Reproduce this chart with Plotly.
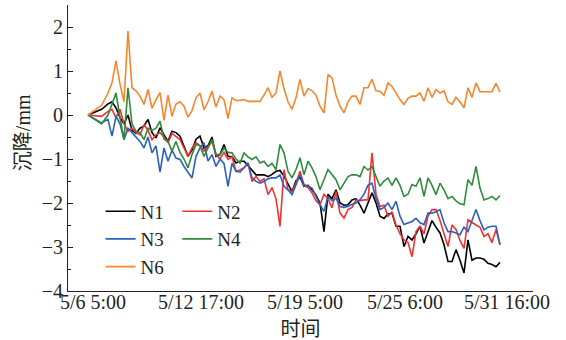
import plotly.graph_objects as go

# sample index (shared time axis, category-like)
sample_idx = [0, 3.4] + list(range(5, 104))

tick_labels = ["5/6 5:00", "5/12 17:00", "5/19 5:00", "5/25 6:00", "5/31 16:00"]
tick_pos = [1.25, 28.25, 54.25, 79.25, 104.75]

N1 = [0, 0.13,
      0.25, 0.3, 0.16, -0.06, -0.2, 0.0, -0.35, -0.42, -0.3, -0.25,
      -0.1, -0.4, -0.52, -0.29, -0.45, -0.6, -0.37, -0.4, -0.48, -0.7,
      -0.94, -0.8, -0.55, -0.48, -0.75, -0.7, -0.5, -0.94, -0.9, -0.67,
      -0.94, -0.95, -1.09, -1.05, -1.05, -1.15, -1.25, -1.36, -1.36, -1.36,
      -1.4, -1.35, -1.28, -1.26, -1.39, -1.55, -1.74, -1.5, -1.4, -1.62,
      -1.6, -1.7, -1.82, -2.0, -2.65, -1.8, -1.9, -1.7, -2.0, -2.05,
      -2.04, -1.93, -1.9, -2.05, -2.23, -2.0, -1.77, -2.0, -2.3, -2.35,
      -2.25, -2.23, -2.53, -2.53, -2.99, -2.76, -2.84, -2.7, -2.53, -2.91,
      -2.65, -2.4, -2.55, -2.68, -2.95, -3.33, -3.33, -3.06, -3.3, -3.59,
      -2.84, -3.3, -3.25, -3.25, -3.28, -3.37, -3.4, -3.45, -3.35]

N2 = [0, -0.03,
      0.08, 0.13, -0.06, 0.13, -0.2, -0.37, -0.3, -0.4, -0.45, -0.22,
      -0.35, -0.56, -0.45, -0.4, -0.5, -0.63, -0.42, -0.5, -0.56, -0.75,
      -0.94, -0.75, -0.63, -0.7, -0.82, -0.72, -0.6, -0.9, -1.0, -0.85,
      -1.01, -0.95, -1.28, -1.25, -1.2, -1.09, -1.51, -1.4, -1.51, -1.45,
      -1.81, -1.65, -1.9, -2.53, -1.24, -1.7, -1.75, -1.55, -1.28, -1.6,
      -1.65, -1.77, -1.95, -2.04, -1.8, -1.9, -2.11, -1.74, -2.23, -2.34,
      -2.15, -2.1, -1.93, -1.95, -1.93, -1.93, -0.86, -1.8, -2.08, -2.05,
      -2.3, -2.2, -2.5, -2.7, -2.84, -2.9, -3.22, -2.65, -2.53, -2.7,
      -2.3, -2.15, -2.15, -2.4, -2.7, -2.99, -2.5, -2.6, -2.85, -3.03,
      -2.38, -2.45, -2.5, -2.55, -2.76, -2.7, -2.9, -2.6, -2.95]

N3 = [0, -0.18,
      -0.1, -0.48, -0.03, -0.2, -0.56, -0.3, -0.4, -0.5, -0.6, -0.75,
      -0.5, -0.86, -0.7, -1.3, -0.75, -1.05, -0.8, -0.98, -1.01, -1.17,
      -1.3, -1.43, -0.94, -0.75, -0.63, -1.05, -0.9, -1.17, -1.0, -1.1,
      -1.62, -1.1, -1.28, -1.3, -1.2, -1.09, -1.43, -1.51, -1.55, -1.51,
      -1.45, -1.43, -1.43, -1.36, -1.62, -1.7, -1.81, -1.6, -1.36, -1.58,
      -1.62, -1.66, -1.85, -2.04, -2.19, -1.85, -1.95, -1.89, -2.08, -2.1,
      -2.08, -2.03, -2.0, -1.93, -1.8, -1.6, -1.55, -1.9, -2.15, -2.1,
      -2.0, -2.15, -1.96, -2.3, -2.49, -2.45, -2.42, -2.35, -2.45, -2.49,
      -2.23, -2.23, -2.2, -2.15, -2.45, -2.65, -2.65, -2.68, -2.72, -2.55,
      -2.65, -2.4, -2.15, -2.4, -2.61, -2.55, -2.53, -2.53, -2.95]

N4 = [0, -0.2,
      0.0, 0.24, 0.5, -0.06, -0.56, 0.62, -0.2, -0.37, -0.4, -0.56,
      -0.3, -0.35, -0.3, -0.14, -0.55, -0.6, -0.82, -0.6, -0.85, -1.0,
      -1.2, -0.9, -0.67, -0.7, -0.94, -0.75, -0.56, -0.9, -0.9, -0.75,
      -0.85, -0.86, -1.0, -1.09, -0.86, -0.95, -1.01, -0.95, -1.09, -1.05,
      -1.17, -1.1, -1.24, -0.67, -0.86, -1.28, -1.43, -1.24, -0.97, -1.36,
      -1.05, -1.2, -1.4, -1.7, -1.45, -1.24, -1.35, -1.47, -1.7, -1.55,
      -1.4, -1.36, -1.36, -1.4, -1.17, -1.25, -1.17, -1.4, -1.62, -1.5,
      -1.43, -1.6, -1.43, -1.6, -1.85, -1.8, -1.58, -1.62, -1.43, -1.85,
      -1.43, -1.6, -1.81, -1.55, -1.7, -1.9, -1.85, -1.95, -2.02, -2.04,
      -1.47, -1.6, -1.17, -1.66, -1.93, -1.9, -1.85, -1.93, -1.83]

N6 = [0, 0.22,
      0.5, 0.73, 1.23, 0.7, 0.3, 1.91, 0.62, 0.55, 0.43, 0.24,
      0.58, 0.15, 0.35, 0.51, -0.12, 0.45, -0.03, 0.25, 0.3, 0.2,
      -0.05, 0.1, 0.39, 0.5, 0.12, 0.3, 0.54, 0.18, 0.43, 0.35,
      -0.08, 0.39, 0.33, 0.33, 0.35, 0.31, 0.31, 0.31, 0.31, 0.45,
      0.62, 0.4, 0.5, 1.0, 0.6, 0.3, 0.13, 0.39, 0.81, 0.43,
      0.6, 0.55, 0.45, 0.2, 0.05, 0.92, 0.85, 0.45, 0.2, 0.05,
      0.3, 0.43, 0.43, 0.24, 0.62, 0.62, 0.81, 0.55, 0.54, 0.45,
      0.73, 0.65, 0.5, 0.35, 0.24, 0.38, 0.43, 0.43, 0.5, 0.31,
      0.62, 0.4, 0.58, 0.5, 0.55, 0.3, 0.24, 0.4, 0.3, 0.16,
      0.62, 0.4, 0.73, 0.53, 0.53, 0.53, 0.53, 0.72, 0.52]

series = [
    ("N1", N1, "#000000", "legend"),
    ("N2", N2, "#f03232", "legend2"),
    ("N3", N3, "#2d5fbd", "legend"),
    ("N4", N4, "#318a3c", "legend2"),
    ("N6", N6, "#f5862e", "legend"),
]

FONT = "Liberation Serif, Times New Roman, Noto Sans CJK SC, serif"
TXT = "#231f20"

fig = go.Figure()
for name, vals, color, lg in series:
    fig.add_trace(go.Scatter(
        x=sample_idx, y=vals, mode="lines", name=name,
        line=dict(color=color, width=1.6), legend=lg,
    ))

fig.update_layout(
    width=566, height=340,
    margin=dict(l=68, r=33, t=5, b=49),
    paper_bgcolor="white", plot_bgcolor="white",
    font=dict(family=FONT, size=20, color=TXT),
    legend=dict(x=0.07, y=0.345, xanchor="left", yanchor="top",
                bgcolor="rgba(0,0,0,0)", font=dict(size=19),
                tracegroupgap=0, itemwidth=30),
    legend2=dict(x=0.235, y=0.345, xanchor="left", yanchor="top",
                 bgcolor="rgba(0,0,0,0)", font=dict(size=19),
                 tracegroupgap=0, itemwidth=30),
    annotations=[dict(
        text="沉降/mm", textangle=-90, showarrow=False,
        xref="paper", yref="paper", x=-0.097, y=0.555,
        xanchor="center", yanchor="middle",
        font=dict(family=FONT, size=20, color=TXT),
    )],
)

fig.update_xaxes(
    range=[-5, 111.25], showgrid=False, zeroline=False,
    showline=True, linecolor=TXT, linewidth=1,
    tickmode="array", tickvals=tick_pos, ticktext=tick_labels,
    ticks="", tickfont=dict(size=20), ticklabelstandoff=-7,
    title=dict(text="时间", font=dict(size=20), standoff=9),
)
fig.update_yaxes(
    range=[-4, 2.5], showgrid=False, zeroline=False,
    showline=True, linecolor=TXT, linewidth=1,
    dtick=1, tick0=0, ticks="inside", ticklen=5, tickcolor=TXT,
    minor=dict(dtick=0.5, ticks="inside", ticklen=3, tickcolor=TXT),
    tickfont=dict(size=20),
)

fig.write_html("out.html")
